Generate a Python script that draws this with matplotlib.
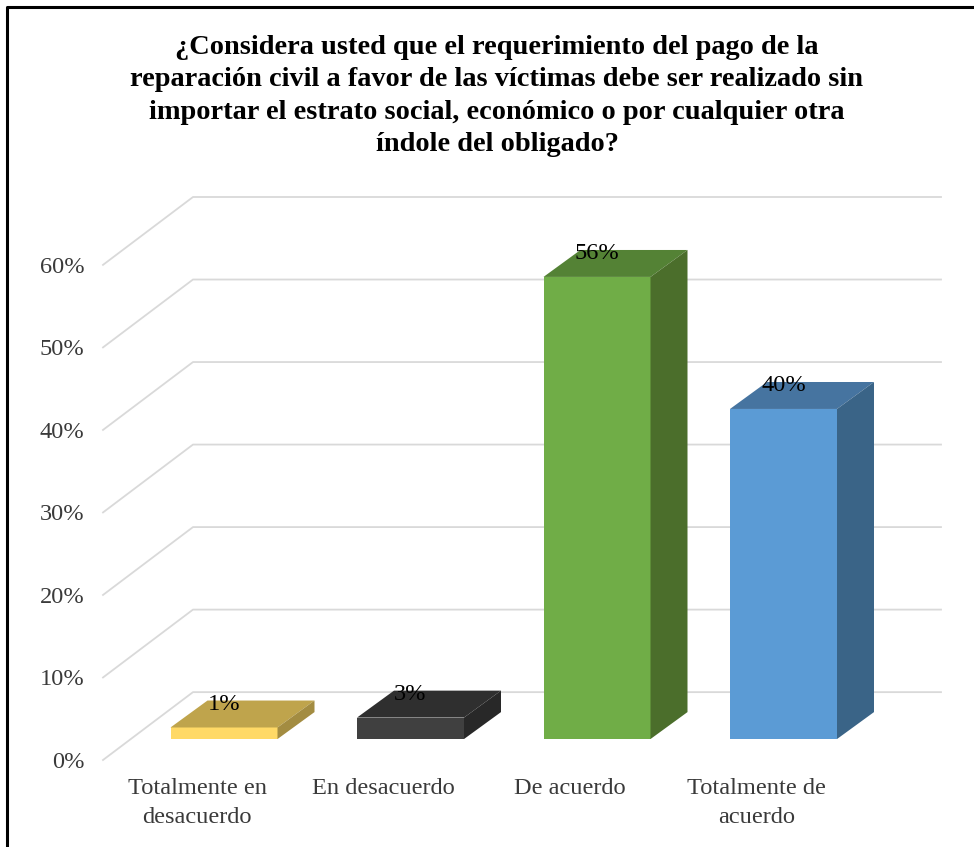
#!/usr/bin/python3
# 3D-look bar chart of survey answers, drawn on plain 2D axes.

import matplotlib
matplotlib.use("Agg")
import matplotlib.pyplot as plt
from matplotlib.lines import Line2D
from matplotlib.patches import Polygon
from matplotlib.transforms import ScaledTranslation

plt.rcParams['font.family'] = ['Liberation Serif', 'DejaVu Serif']

categories = ["Totalmente en\ndesacuerdo", "En desacuerdo", "De acuerdo",
              "Totalmente de\nacuerdo"]
# Bar heights (labels are rounded).
values = [1.4, 2.6, 56, 40]
ticks = [0, 10, 20, 30, 40, 50, 60]
title = ("¿Considera usted que el requerimiento del pago de la\n"
         "reparación civil a favor de las víctimas debe ser realizado sin\n"
         "importar el estrato social, económico o por cualquier otra\n"
         "índole del obligado?")

front = ["#FFD966", "#404040", "#70AD47", "#5B9BD5"]
top = ["#BFA44C", "#2F2F2F", "#548235", "#4674A0"]
side = ["#A38C41", "#282828", "#4B6E2B", "#3A6487"]

W, H = 974, 847
fig = plt.figure(figsize=(W / 100, H / 100), dpi=100, facecolor="white")
ax = fig.add_axes([103 / W, 1 - 760 / H, (941 - 103) / W, (760 - 197) / H])

# Depth of the floor, in data units (categories, percent).
unit_x = 186.5
unit_y = 8.267
depth_x = 90 / unit_x
depth_y = 68 / unit_y
ax.set_xlim((103 - 224) / unit_x, (941 - 224) / unit_x)
ax.set_ylim(0, 60 + depth_y)

# Grid: diagonal on the side wall, then straight along the back wall.
xmin, xmax = ax.get_xlim()
for t in ticks:
    ax.plot([xmin, xmin + depth_x, xmax], [t, t + depth_y, t + depth_y],
            color="#d9d9d9", lw=1.3, clip_on=False, zorder=1)

# Bars stand a bit in from the front edge of the floor.
xs = list(range(len(values)))
bar_w = 107 / unit_x
floor = 21 / unit_y
bar_dx = 37 / unit_x
bar_dy = 27 / unit_y
ax.bar(xs, values, width=bar_w, bottom=floor, color=front, zorder=3)
for i, v in enumerate(values):
    x0 = i - bar_w / 2
    x1 = i + bar_w / 2
    y0 = floor
    y1 = floor + v
    ax.add_patch(Polygon([(x0, y1), (x1, y1), (x1 + bar_dx, y1 + bar_dy),
                          (x0 + bar_dx, y1 + bar_dy)],
                         fc=top[i], ec="none", zorder=3))
    ax.add_patch(Polygon([(x1, y0), (x1 + bar_dx, y0 + bar_dy),
                          (x1 + bar_dx, y1 + bar_dy), (x1, y1)],
                         fc=side[i], ec="none", zorder=3))
    ax.text(i, y1 + 23 / unit_y, "{:.0f}%".format(v), ha="center", va="center",
            fontsize=17.6, color="black", zorder=4)

ax.set_xticks(xs)
ax.set_xticklabels(categories, fontsize=17.6, color="#3a3a3a", linespacing=1.47)
ax.set_yticks(ticks)
ax.set_yticklabels(["{}%".format(t) for t in ticks], fontsize=17.6, color="#3a3a3a")
ax.tick_params(axis="x", length=0, pad=13)
ax.tick_params(axis="y", length=0, pad=13.5)
# Category labels sit left of the bars, at the front of the floor.
shift = ScaledTranslation(-27 / 100, 0, fig.dpi_scale_trans)
for lab in ax.get_xticklabels():
    lab.set_transform(lab.get_transform() + shift)
for s in ax.spines.values():
    s.set_visible(False)
ax.patch.set_alpha(0)

fig.text(497 / W, 1 - 96 / H, title, ha="center", va="center", fontsize=20.4,
         fontweight="bold", color="black", linespacing=1.38)

# Black frame, cut off by the image at right and bottom.
fig.add_artist(Line2D([7 / W, 7 / W, 1], [0, 1 - 7 / H, 1 - 7 / H],
                      color="black", lw=2.2))

fig.savefig("out.png", dpi=100)
